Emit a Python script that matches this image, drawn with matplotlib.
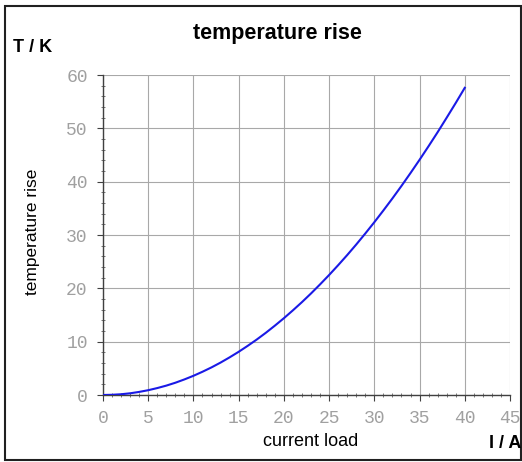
import matplotlib.pyplot as plt
from matplotlib.ticker import MultipleLocator
from matplotlib.patches import Rectangle

# current load (A) and temperature rise (K)
current = list(range(0, 41))
temp_rise = [0, 0.04, 0.14, 0.32, 0.58, 0.9, 1.3, 1.76, 2.3, 2.92,
             3.6, 4.36, 5.18, 6.08, 7.06, 8.1, 9.22, 10.4, 11.66, 13.0,
             14.4, 15.88, 17.42, 19.04, 20.74, 22.5, 24.34, 26.24, 28.22, 30.28,
             32.4, 34.6, 36.86, 39.2, 41.62, 44.1, 46.66, 49.28, 52.0, 54.76,
             57.6]

fig = plt.figure(figsize=(5.22, 4.62), dpi=100)
ax = fig.add_axes([103 / 522, 67 / 462, 407 / 522, 320 / 462])

ax.plot(current, temp_rise, color='#1a1ae6', lw=1.5, zorder=3)

ax.set_xlim(0, 45)
ax.set_ylim(0, 60)
ax.xaxis.set_major_locator(MultipleLocator(5))
ax.xaxis.set_minor_locator(MultipleLocator(1))
ax.yaxis.set_major_locator(MultipleLocator(10))
ax.yaxis.set_minor_locator(MultipleLocator(2))
ax.grid(True, which='major', color='#a8a8a8', lw=0.8)

for s in ['top', 'right']:
    ax.spines[s].set_visible(False)
for s in ['left', 'bottom']:
    ax.spines[s].set_color('#404040')
    ax.spines[s].set_linewidth(1.0)

ax.tick_params(which='major', direction='out', length=4, color='#404040',
               labelcolor='#a0a0a0', labelsize=13, pad=7)
ax.tick_params(which='minor', direction='inout', length=3, color='#606060')
for lab in ax.get_xticklabels() + ax.get_yticklabels():
    lab.set_family('Liberation Mono')

fig.text(311 / 522, 1 - 442 / 462, 'current load', ha='center', va='center',
         fontsize=13, family='Liberation Sans')
fig.text(33 / 522, 1 - 232 / 462, 'temperature rise', ha='center', va='center',
         rotation=90, fontsize=12.5, family='Liberation Sans')
fig.text(277 / 522, 1 - 34 / 462, 'temperature rise', ha='center', va='center',
         fontsize=15.5, fontweight='bold', family='Liberation Sans')
fig.text(13 / 522, 1 - 47 / 462, 'T / K', ha='left', va='center',
         fontsize=13, fontweight='bold', family='Liberation Sans')
fig.text(521 / 522, 1 - 443 / 462, 'I / A', ha='right', va='center',
         fontsize=13, fontweight='bold', family='Liberation Sans')

# outer frame of the picture
fig.patches.append(Rectangle((5 / 522, 2 / 462), 516 / 522, 454 / 462,
                             transform=fig.transFigure, fill=False,
                             edgecolor='#202020', lw=1.5))

fig.savefig('out.png', dpi=100)
